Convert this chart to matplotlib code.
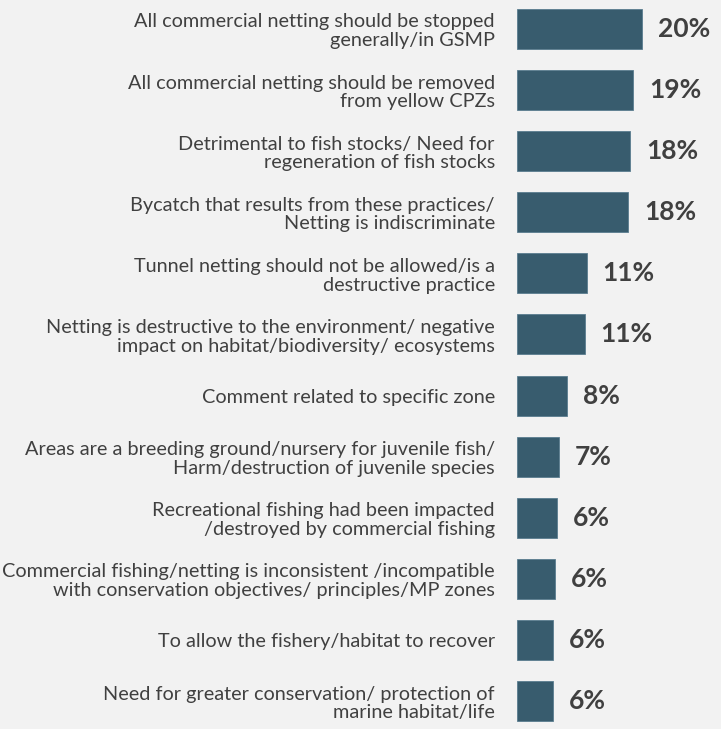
import matplotlib.pyplot as plt

plt.rcParams['font.family'] = ['Lato', 'DejaVu Sans']

# categories, top to bottom
labels = [
    "All commercial netting should be stopped\ngenerally/in GSMP",
    "All commercial netting should be removed\nfrom yellow CPZs",
    "Detrimental to fish stocks/ Need for\nregeneration of fish stocks",
    "Bycatch that results from these practices/\nNetting is indiscriminate",
    "Tunnel netting should not be allowed/is a\ndestructive practice",
    "Netting is destructive to the environment/ negative\nimpact on habitat/biodiversity/ ecosystems",
    "Comment related to specific zone",
    "Areas are a breeding ground/nursery for juvenile fish/\nHarm/destruction of juvenile species",
    "Recreational fishing had been impacted\n/destroyed by commercial fishing",
    "Commercial fishing/netting is inconsistent /incompatible\nwith conservation objectives/ principles/MP zones",
    "To allow the fishery/habitat to recover",
    "Need for greater conservation/ protection of\nmarine habitat/life",
]
# values (percent)
values = [20.0, 18.6, 18.1, 17.8, 11.2, 10.9, 8.0, 6.7, 6.4, 6.1, 5.8, 5.8]
value_labels = ["20%", "19%", "18%", "18%", "11%", "11%", "8%", "7%", "6%", "6%", "6%", "6%"]

bg = "#f2f2f2"
bar_color = "#385c6e"
text_color = "#404040"

fig = plt.figure(figsize=(7.21, 7.29), dpi=100, facecolor=bg)
ax = fig.add_axes([517 / 721, 0, 1 - 517 / 721, 1])
ax.set_facecolor(bg)

ypos = list(range(len(labels)))
ax.barh(ypos, values, height=0.655, color=bar_color, edgecolor="#5a7d8f", linewidth=0.6)

for y, v, t in zip(ypos, values, value_labels):
    ax.text(v + 2.5, y, t, va="center", ha="left", fontsize=19,
            fontweight="bold", color=text_color)

ax.set_yticks(ypos)
ax.set_yticklabels(labels, fontsize=14.3, color=text_color, ha="right",
                   linespacing=1.12)
ax.tick_params(axis="y", length=0, pad=16)
ax.set_xticks([])
for s in ax.spines.values():
    s.set_visible(False)

ax.set_xlim(0, (721 - 517) / 6.25)
ax.set_ylim(11 + 28 / 61.1, -29 / 61.1)

fig.savefig("out.png", dpi=100, facecolor=bg)
